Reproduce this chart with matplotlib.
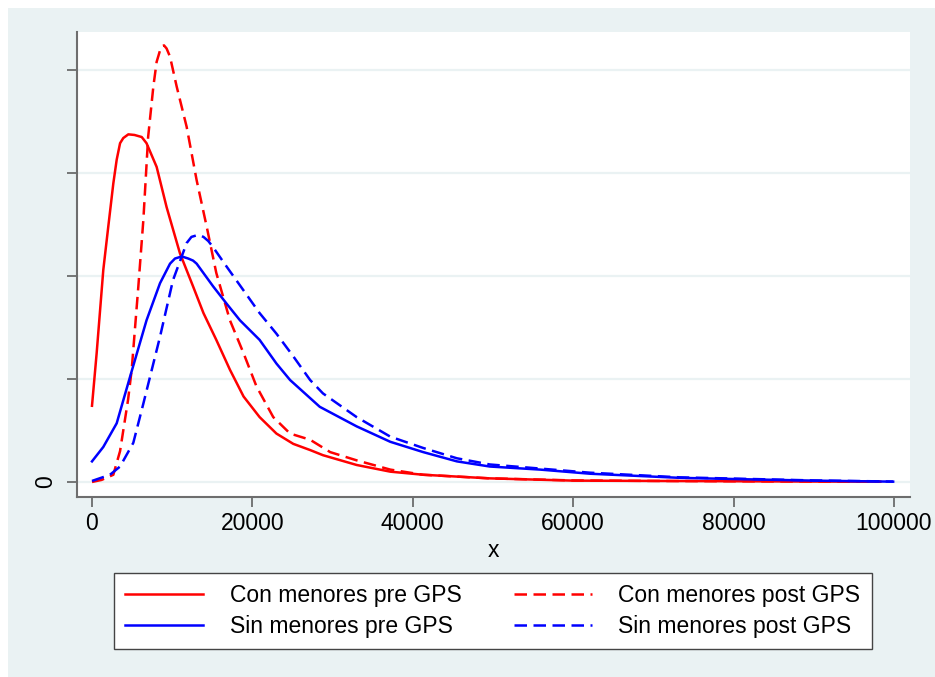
import matplotlib
matplotlib.use("Agg")
import matplotlib.pyplot as plt
from matplotlib.patches import Rectangle
from matplotlib.lines import Line2D

plt.rcParams['font.family'] = ['Liberation Sans', 'DejaVu Sans']

# density estimates (y in units of one grid step)
con_pre_x = [0, 580, 1410, 2030, 2660, 3080, 3500, 3900, 4530, 5300, 6200, 6800, 8060, 9300,
             10970, 12600, 13900, 15500, 17200, 18900, 20900, 23000, 25100, 27200, 28800,
             33000, 37200, 41300, 49600, 60000, 70000, 80000, 90000, 98300]
con_pre_y = [0.74, 1.25, 2.06, 2.48, 2.90, 3.13, 3.29, 3.34, 3.376, 3.37, 3.35, 3.29, 3.06, 2.67,
             2.22, 1.90, 1.64, 1.38, 1.09, 0.83, 0.63, 0.47, 0.37, 0.31, 0.26,
             0.165, 0.10, 0.07, 0.035, 0.013, 0.01, 0.007, 0.004, 0.003]

con_post_x = [0, 1200, 2660, 3500, 4500, 4950, 5780, 6400, 7000, 7650, 8060, 8480, 8700,
              8980, 9300, 9730, 10560, 11800, 13050, 14300, 15500, 17200, 18900, 20500,
              22600, 24700, 27200, 29700, 33000, 37200, 41300, 49600, 60000, 70000,
              80000, 90000, 98300]
con_post_y = [0.0, 0.02, 0.07, 0.30, 0.80, 1.09, 1.90, 2.54, 3.35, 3.84, 4.08, 4.19, 4.23,
              4.24, 4.21, 4.13, 3.84, 3.45, 2.93, 2.48, 2.03, 1.57, 1.25, 0.93,
              0.63, 0.47, 0.41, 0.29, 0.21, 0.12, 0.07, 0.035, 0.015, 0.01,
              0.007, 0.004, 0.002]

sin_pre_x = [0, 1410, 3080, 4740, 6800, 8480, 9730, 10350, 11200, 12000, 12600, 13050,
             15100, 16800, 18450, 20900, 23000, 24700, 28400, 33000, 37200, 41300, 45500,
             49600, 55900, 62100, 73300, 81600, 89900, 99900]
sin_pre_y = [0.20, 0.34, 0.57, 1.02, 1.57, 1.93, 2.12, 2.17, 2.19, 2.17, 2.15, 2.12,
             1.90, 1.73, 1.57, 1.38, 1.15, 0.99, 0.73, 0.54, 0.39, 0.29, 0.20,
             0.15, 0.12, 0.08, 0.04, 0.026, 0.013, 0.003]

sin_post_x = [0, 2240, 3500, 5150, 6400, 8480, 10100, 11800, 12400, 13250, 13900, 14500,
              15100, 16800, 18900, 20900, 23000, 25100, 27200, 28800, 33000, 37200, 41300,
              45500, 49600, 55900, 62100, 73300, 81600, 89900, 99900]
sin_post_y = [0.01, 0.07, 0.15, 0.38, 0.76, 1.41, 1.96, 2.32, 2.38, 2.40, 2.38, 2.34,
              2.28, 2.09, 1.86, 1.64, 1.44, 1.22, 0.99, 0.86, 0.63, 0.44, 0.33,
              0.23, 0.17, 0.13, 0.09, 0.045, 0.03, 0.015, 0.004]

labels = ['Con menores pre GPS', 'Sin menores pre GPS',
          'Con menores post GPS', 'Sin menores post GPS']
x_ticks = [0, 20000, 40000, 60000, 80000, 100000]
y_ticks = [0, 1, 2, 3, 4]
y_ticklabels = ['0', '', '', '', '']

bg = '#EAF2F3'
fs = 16.5
fig = plt.figure(figsize=(9.35, 6.77), dpi=100)
fig.patch.set_facecolor('white')
fig.patches.append(Rectangle((8 / 935, 0), 1, 1 - 8 / 677, transform=fig.transFigure,
                             facecolor=bg, edgecolor='none', zorder=-10))

ax = fig.add_axes([77 / 935, 180 / 677, 833 / 935, 465 / 677])
ax.set_facecolor('white')

lw = 1.8
dash = (0, (5, 2.6))
l1, = ax.plot(con_pre_x, con_pre_y, color='#FF0000', lw=lw)
l2, = ax.plot(con_post_x, con_post_y, color='#FF0000', lw=lw, linestyle=dash)
l3, = ax.plot(sin_pre_x, sin_pre_y, color='#0000FF', lw=lw)
l4, = ax.plot(sin_post_x, sin_post_y, color='#0000FF', lw=lw, linestyle=dash)

ax.set_xlim(-1870, 102000)
ax.set_ylim(-0.146, 4.37)

ax.set_yticks(y_ticks)
ax.set_yticklabels(y_ticklabels, rotation=90, va='center')
ax.set_xticks(x_ticks)
ax.set_xticklabels([str(t) for t in x_ticks])
ax.yaxis.grid(True, color=bg, lw=1.6)
ax.set_axisbelow(True)

for s in ['top', 'right']:
    ax.spines[s].set_visible(False)
for s in ['left', 'bottom']:
    ax.spines[s].set_color('#6E6E6E')
    ax.spines[s].set_linewidth(1.5)
ax.tick_params(axis='both', length=7, width=1.1, color='#555555', labelsize=fs)
ax.tick_params(axis='y', pad=7)
ax.tick_params(axis='x', pad=4)
ax.set_xlabel('x', fontsize=fs, labelpad=3)

# column-first fill: col 1 = pre, col 2 = post
leg = fig.legend([l1, l3, l2, l4], labels, ncol=2, loc='center',
                 bbox_to_anchor=(493 / 935, 1 - 611 / 677),
                 fontsize=fs, frameon=True, fancybox=False, framealpha=1,
                 handlelength=3.4, handletextpad=1.15, columnspacing=2.3,
                 labelspacing=0.32, borderpad=0.5, borderaxespad=0)
leg.get_frame().set_edgecolor('#444444')
leg.get_frame().set_linewidth(1.0)

fig.savefig('out.png', dpi=100, facecolor=fig.get_facecolor())
